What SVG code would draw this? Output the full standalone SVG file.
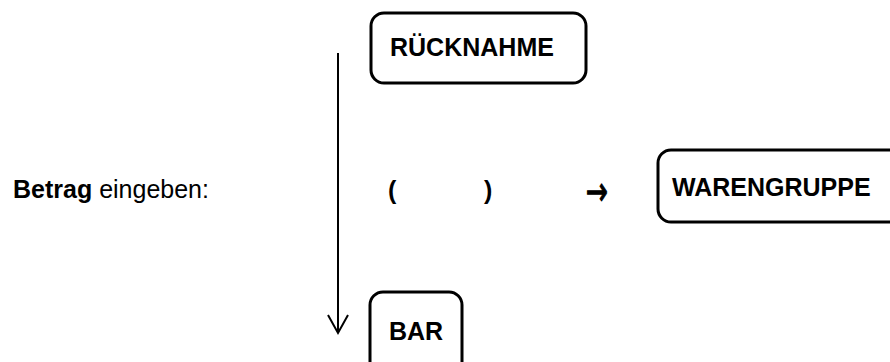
<svg xmlns="http://www.w3.org/2000/svg" width="890" height="362" viewBox="0 0 890 362">
<style>
.box{fill:#fff;stroke:#000;stroke-width:3}
.lbl{font-family:"Liberation Sans",Arial,sans-serif;font-size:25px;font-weight:bold;fill:#000}
.txt{font-family:"Liberation Sans",Arial,sans-serif;font-size:25px;fill:#000}
.arr{font-family:"DejaVu Sans",sans-serif;font-size:40px;fill:#000;stroke:#000;stroke-width:1.2}
.con{fill:none;stroke:#000;stroke-width:2}
</style>
<rect width="890" height="362" fill="#fff"/>
<g id="connectors">
<line class="con" x1="338" y1="53" x2="338" y2="333"/>
<polyline class="con" points="328,315 338,333 348,315"/>
</g>
<g id="ruecknahme">
<rect class="box" x="371" y="13" width="215" height="70" rx="13"/>
<text class="lbl" x="390" y="56">RÜCKNAHME</text>
</g>
<g id="warengruppe">
<rect class="box" x="658" y="150" width="260" height="72" rx="13"/>
<text class="lbl" x="672" y="196">WARENGRUPPE</text>
</g>
<g id="bar">
<rect class="box" x="370" y="292" width="92" height="90" rx="13"/>
<text class="lbl" x="389" y="340">BAR</text>
</g>
<g id="betrag">
<text class="txt" x="13" y="198"><tspan font-weight="bold">Betrag</tspan> eingeben:</text>
</g>
<g id="klammern">
<text class="lbl" x="388" y="199">(</text>
<text class="lbl" x="484" y="199">)</text>
<text class="arr" x="586" y="205" textLength="22" lengthAdjust="spacingAndGlyphs">→</text>
</g>
</svg>
